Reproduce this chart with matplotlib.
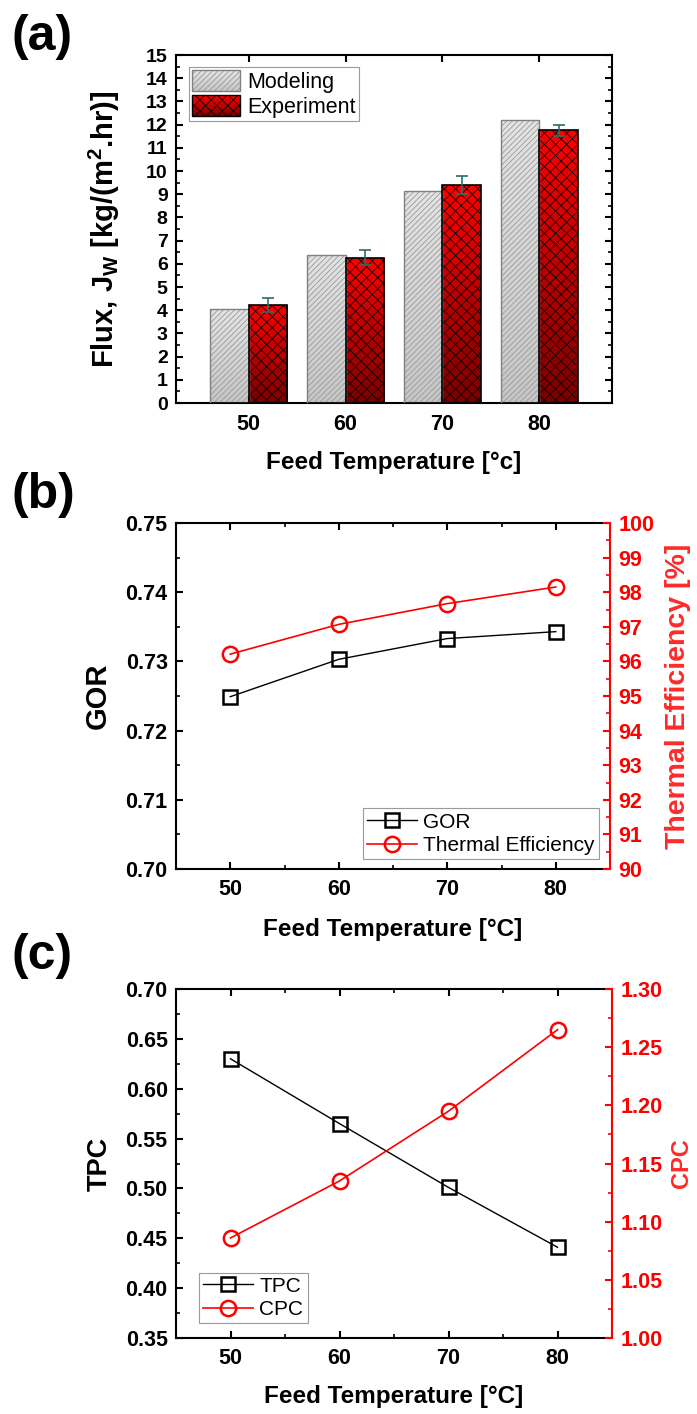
import numpy as np
import matplotlib
matplotlib.use("Agg")
import matplotlib.pyplot as plt
from matplotlib.patches import Rectangle
from matplotlib.legend_handler import HandlerBase
from matplotlib.ticker import MultipleLocator, FixedLocator, FormatStrFormatter

# ---------------- data ----------------
temps = [50, 60, 70, 80]
flux_model = [4.07, 6.39, 9.13, 12.2]
flux_exp = [4.21, 6.27, 9.40, 11.76]
flux_exp_err = [0.30, 0.32, 0.40, 0.24]

gor = [0.7249, 0.7303, 0.7333, 0.7343]
thermal_eff = [96.21, 97.07, 97.67, 98.15]

tpc = [0.630, 0.565, 0.501, 0.441]
cpc = [1.086, 1.135, 1.195, 1.265]

# ---------------- style ----------------
plt.rcParams['font.family'] = ['Liberation Sans', 'DejaVu Sans']
plt.rcParams['mathtext.fontset'] = 'custom'
plt.rcParams['mathtext.rm'] = 'Liberation Sans:bold'
plt.rcParams['mathtext.it'] = 'Liberation Sans:bold'
plt.rcParams['mathtext.bf'] = 'Liberation Sans:bold'
plt.rcParams['hatch.linewidth'] = 0.6

W, H = 697, 1414
fig = plt.figure(figsize=(W / 100, H / 100), dpi=100)


def axes_px(left, top, right, bottom):
    return fig.add_axes([left / W, 1 - bottom / H, (right - left) / W, (bottom - top) / H])


TICK_FS = 15.5
LABEL_FS = 17.5
LEG_FS = 15
SPINE_LW = 1.5


def style_spines(ax, color='black'):
    for s in ax.spines.values():
        s.set_linewidth(SPINE_LW)
        s.set_color(color)


def hex2rgb(h):
    return np.array(matplotlib.colors.to_rgb(h))


RED_TOP, RED_BOT = hex2rgb('#ff0000'), hex2rgb('#780000')
GRAY_TOP, GRAY_BOT = hex2rgb('#e4e4e4'), hex2rgb('#c6c6c6')


def gradient_bars(ax, xs, heights, width, top_c, bot_c, hatch, hatch_c, edge_c, edge_lw):
    bars = ax.bar(xs, heights, width, facecolor='none', edgecolor=hatch_c,
                  hatch=hatch, linewidth=0, zorder=2)
    for p in bars.patches:
        x0, w, h = p.get_x(), p.get_width(), p.get_height()
        t = np.linspace(0, 1, 256)[:, None]
        img = bot_c[None, None, :] + (top_c - bot_c)[None, None, :] * t[:, :, None]
        im = ax.imshow(img, extent=[x0, x0 + w, 0, h], origin='lower',
                       aspect='auto', zorder=1, interpolation='bilinear')
        im.set_clip_path(p)
    ax.bar(xs, heights, width, facecolor='none', edgecolor=edge_c,
           linewidth=edge_lw, zorder=3)
    return bars


class GradientHandler(HandlerBase):
    def __init__(self, top_c, bot_c, hatch, hatch_c, edge_c):
        super().__init__()
        self.top_c, self.bot_c = top_c, bot_c
        self.hatch, self.hatch_c, self.edge_c = hatch, hatch_c, edge_c

    def create_artists(self, legend, orig_handle, xdescent, ydescent,
                       width, height, fontsize, trans):
        arts = []
        n = 30
        for i in range(n):
            f = i / (n - 1)
            c = self.bot_c + (self.top_c - self.bot_c) * f
            arts.append(Rectangle((-xdescent, -ydescent + height * i / n), width,
                                  height / n * 1.05, facecolor=c, edgecolor='none',
                                  transform=trans))
        arts.append(Rectangle((-xdescent, -ydescent), width, height, facecolor='none',
                              edgecolor=self.hatch_c, hatch=self.hatch, linewidth=0,
                              transform=trans))
        arts.append(Rectangle((-xdescent, -ydescent), width, height, facecolor='none',
                              edgecolor=self.edge_c, linewidth=1.0, transform=trans))
        return arts


def place_xlabel(ax, text, y_center_px, ax_bottom_px, ax_height_px):
    ax.set_xlabel(text, fontsize=LABEL_FS, fontweight='bold', va='center')
    ax.xaxis.set_label_coords(0.5, -(y_center_px - ax_bottom_px) / ax_height_px)


def place_ylabel(ax, text, x_center_px, ax_left_px, ax_width_px, size, color='black'):
    ax.set_ylabel(text, fontsize=size, fontweight='bold', va='center',
                  ha='center', rotation=90, color=color)
    ax.yaxis.set_label_coords((x_center_px - ax_left_px) / ax_width_px, 0.5)


# ================= (a) flux bars =================
axa = axes_px(176, 55, 612, 403)
idx = np.arange(len(temps))
bw = 0.4
gradient_bars(axa, idx - bw / 2, flux_model, bw, GRAY_TOP, GRAY_BOT,
              '//////', '#9a9a9a', '#808080', 1.0)
gradient_bars(axa, idx + bw / 2, flux_exp, bw, RED_TOP, RED_BOT,
              'xxx', '#1a0000', '#000000', 1.2)
axa.errorbar(idx + bw / 2, flux_exp, yerr=flux_exp_err, fmt='none',
             ecolor='#2f6b6b', elinewidth=1.2, capsize=4, capthick=1.2, zorder=5)
axa.set_xlim(-0.75, 3.75)
axa.set_ylim(0, 15)
axa.set_xticks(idx)
axa.set_xticklabels([str(t) for t in temps], fontsize=TICK_FS, fontweight='bold')
axa.yaxis.set_major_locator(MultipleLocator(1))
axa.yaxis.set_minor_locator(MultipleLocator(0.5))
axa.tick_params(axis='y', which='both', direction='in', left=True, right=True,
                labelsize=14, pad=6)
for lab in axa.get_yticklabels():
    lab.set_fontweight('bold')
axa.tick_params(axis='x', which='both', direction='in', top=True, bottom=True, pad=8)
axa.tick_params(which='major', length=5, width=1.5)
axa.tick_params(which='minor', length=3, width=1.2)
style_spines(axa)
place_xlabel(axa, 'Feed Temperature [°c]', 463, 403, 348)
place_ylabel(axa, r'Flux, J$_{\mathrm{W}}$ [kg/(m$^{\mathrm{2}}$.hr)]', 104, 176, 436, 21)

proxy_m = Rectangle((0, 0), 1, 1)
proxy_e = Rectangle((0, 0), 1, 1)
lega = axa.legend([proxy_m, proxy_e], ['Modeling', 'Experiment'],
                  handler_map={proxy_m: GradientHandler(GRAY_TOP, GRAY_BOT, '//////', '#9a9a9a', '#808080'),
                               proxy_e: GradientHandler(RED_TOP, RED_BOT, 'xxx', '#1a0000', '#000000')},
                  loc='upper left', bbox_to_anchor=((189 - 176) / 436, 1 - (67 - 55) / 348),
                  borderaxespad=0, fontsize=15.5, frameon=True, fancybox=False,
                  edgecolor='#9a9a9a', framealpha=1, handlelength=2.2, handleheight=1.1,
                  handletextpad=0.35, borderpad=0.15, labelspacing=0.12)
lega.get_frame().set_linewidth(0.8)


# ============ shared builder for the two line panels ============
def line_panel(top, bottom, right_px, y_left, y_right, ylim_l, ylim_r,
               maj_l, min_l, maj_r, min_r, fmt_l, fmt_r,
               lab_l, lab_r, lab_lx, lab_rx, size_l, size_r, xlabel_yc):
    ax = axes_px(176, top, right_px, bottom)
    ax2 = ax.twinx()
    hl, = ax.plot(temps, y_left, color='black', lw=1.0, marker='s', ms=9.5,
                  mfc='none', mec='black', mew=1.8, zorder=3, clip_on=False)
    hr, = ax2.plot(temps, y_right, color='red', lw=1.2, marker='o', ms=11,
                   mfc='none', mec='red', mew=1.8, zorder=3, clip_on=False)
    ax.set_xlim(45, 85)
    ax.set_ylim(*ylim_l)
    ax2.set_ylim(*ylim_r)
    ax.xaxis.set_major_locator(FixedLocator(temps))
    ax.xaxis.set_minor_locator(FixedLocator([55, 65, 75]))
    ax.yaxis.set_major_locator(MultipleLocator(maj_l))
    ax.yaxis.set_minor_locator(MultipleLocator(min_l))
    ax2.yaxis.set_major_locator(MultipleLocator(maj_r))
    ax2.yaxis.set_minor_locator(MultipleLocator(min_r))
    ax.yaxis.set_major_formatter(FormatStrFormatter(fmt_l))
    ax2.yaxis.set_major_formatter(FormatStrFormatter(fmt_r))
    ax.tick_params(axis='both', which='both', direction='in', top=True, right=False)
    ax.tick_params(axis='x', labelsize=TICK_FS, pad=7)
    ax.tick_params(axis='y', labelsize=TICK_FS, pad=6)
    ax.tick_params(which='major', length=5, width=1.5)
    ax.tick_params(which='minor', length=3, width=1.2)
    ax2.tick_params(axis='y', which='both', direction='in', colors='red',
                    labelsize=TICK_FS, pad=6)
    ax2.tick_params(which='major', length=5, width=1.5)
    ax2.tick_params(which='minor', length=3, width=1.2)
    for lab in ax.get_xticklabels() + ax.get_yticklabels() + ax2.get_yticklabels():
        lab.set_fontweight('bold')
    style_spines(ax)
    ax.spines['right'].set_visible(False)
    for s in ['top', 'bottom', 'left']:
        ax2.spines[s].set_visible(False)
    ax2.spines['right'].set_color('red')
    ax2.spines['right'].set_linewidth(SPINE_LW)
    width = right_px - 176
    place_xlabel(ax, 'Feed Temperature [°C]', xlabel_yc, bottom, bottom - top)
    place_ylabel(ax, lab_l, lab_lx, 176, width, size_l)
    place_ylabel(ax2, lab_r, lab_rx, 176, width, size_r, color='#ff2a2a')
    return ax, ax2, hl, hr


# ================= (b) GOR / thermal efficiency =================
axb, axb2, hb1, hb2 = line_panel(523, 869, 610, gor, thermal_eff, (0.70, 0.75), (90, 100),
                                 0.01, 0.005, 1, 0.5, '%.2f', '%d',
                                 'GOR', 'Thermal Efficiency [%]', 98, 678, 21, 20.5, 930)
legb = axb2.legend([hb1, hb2], ['GOR', 'Thermal Efficiency'], loc='lower right',
                   bbox_to_anchor=((599 - 176) / 434, (869 - 859) / 346), borderaxespad=0,
                   fontsize=LEG_FS, fancybox=False, edgecolor='#9a9a9a', framealpha=1,
                   handlelength=2.4, handletextpad=0.3, borderpad=0.2, labelspacing=0.2)
legb.get_frame().set_linewidth(0.8)

# ================= (c) TPC / CPC =================
axc, axc2, hc1, hc2 = line_panel(989, 1338, 612, tpc, cpc, (0.35, 0.70), (1.00, 1.30),
                                 0.05, 0.025, 0.05, 0.025, '%.2f', '%.2f',
                                 'TPC', 'CPC', 100, 682, 19.5, 17, 1397)
legc = axc2.legend([hc1, hc2], ['TPC', 'CPC'], loc='lower left',
                   bbox_to_anchor=((199 - 176) / 436, (1338 - 1323) / 349), borderaxespad=0,
                   fontsize=LEG_FS, fancybox=False, edgecolor='#9a9a9a', framealpha=1,
                   handlelength=2.4, handletextpad=0.3, borderpad=0.2, labelspacing=0.2)
legc.get_frame().set_linewidth(0.8)

# ================= panel letters =================
for txt, ycen in [('(a)', 37), ('(b)', 495), ('(c)', 956)]:
    fig.text(12 / W, 1 - ycen / H, txt, fontsize=36, fontweight='bold',
             ha='left', va='center')

fig.savefig('out.png', dpi=100)
